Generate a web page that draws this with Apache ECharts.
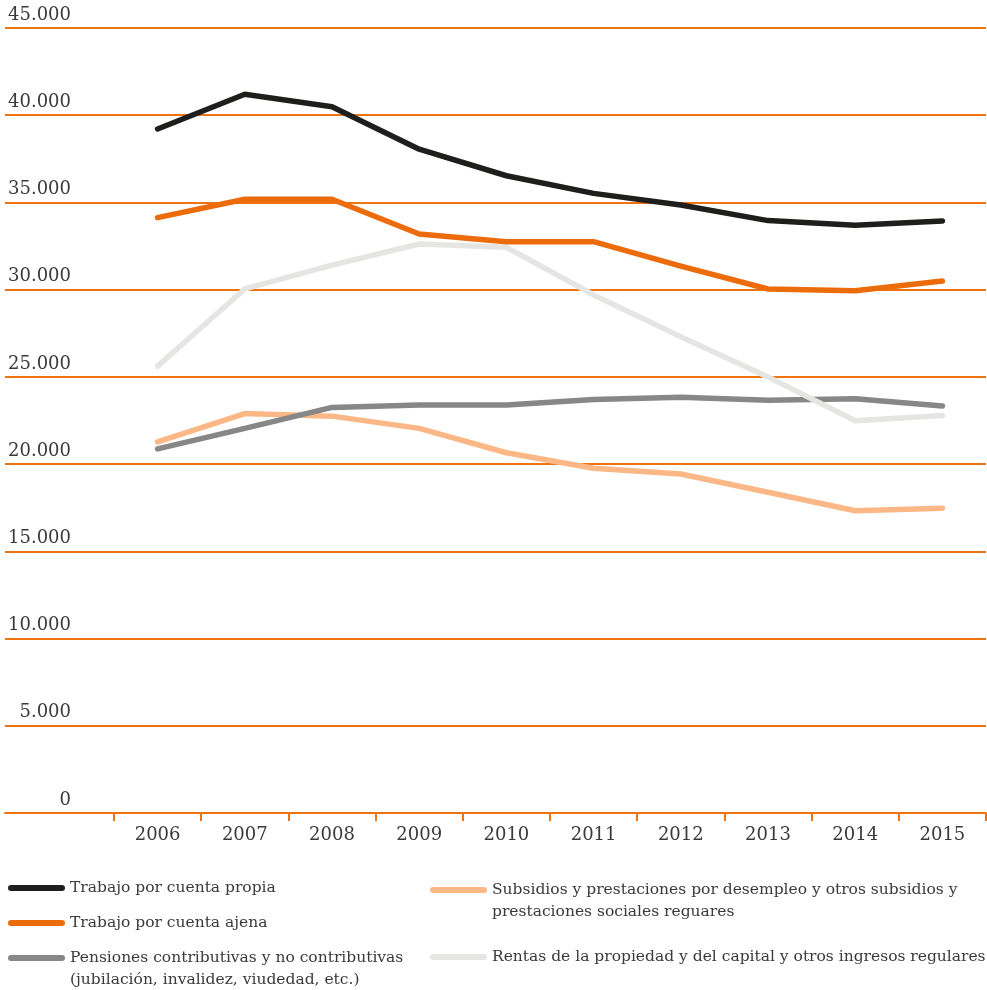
<!DOCTYPE html>
<html>
<head>
<meta charset="utf-8">
<script src="https://cdn.jsdelivr.net/npm/echarts@6/dist/echarts.min.js"></script>
<style>
  html, body { margin: 0; padding: 0; background: #ffffff; }
  #chart { width: 987px; height: 990px; }
</style>
</head>
<body>
<div id="chart"></div>
<script>
// Categories
const years = ['2006', '2007', '2008', '2009', '2010', '2011', '2012', '2013', '2014', '2015'];

// Series names
const nameCuentaPropia = 'Trabajo por cuenta propia';
const nameCuentaAjena = 'Trabajo por cuenta ajena';
const namePensiones = 'Pensiones contributivas y no contributivas\n(jubilación, invalidez, viudedad, etc.)';
const nameSubsidios = 'Subsidios y prestaciones por desempleo y otros subsidios y\nprestaciones sociales reguares';
const nameRentas = 'Rentas de la propiedad y del capital y otros ingresos regulares';

// Series values
const cuentaPropia = [39210, 41200, 40490, 38050, 36530, 35520, 34850, 33960, 33690, 33940];
const cuentaAjena  = [34130, 35180, 35180, 33190, 32750, 32750, 31350, 30040, 29940, 30500];
const pensiones    = [20870, 22050, 23250, 23390, 23390, 23710, 23830, 23660, 23750, 23330];
const subsidios    = [21270, 22900, 22750, 22050, 20650, 19760, 19430, 18390, 17330, 17470];
const rentas       = [25620, 30040, 31410, 32620, 32430, 29700, 27300, 25000, 22490, 22780];

// Value axis ticks
const yMin = 0, yMax = 45000, yStep = 5000;

const ORANGE = '#ef7410';
const TEXT = '#3a3a3a';
const FONT = '"DejaVu Serif", "Liberation Serif", serif';

function thousands(v) {
  return String(v).replace(/\B(?=(\d{3})+(?!\d))/g, '.');
}

const lineIcon = 'path://M3,0 L54,0 A3,3 0 0 1 54,6 L3,6 A3,3 0 0 1 3,0 Z';

function lineSeries(name, data, color) {
  return {
    name: name,
    type: 'line',
    xAxisIndex: 1,
    yAxisIndex: 1,
    data: data,
    symbol: 'none',
    silent: true,
    color: color,
    lineStyle: { color: color, width: 5.5, cap: 'round', join: 'round' }
  };
}

// One legend block per entry; two-line entries get a leading blank line so
// the marker sits beside their first line.
function legendFor(name, left, top, twoLine) {
  const lg = {
    left: left,
    top: top,
    orient: 'vertical',
    selectedMode: false,
    icon: lineIcon,
    itemWidth: 57,
    itemHeight: 6,
    padding: 0,
    textStyle: { fontFamily: FONT, fontSize: 15.5, color: TEXT, lineHeight: 22 },
    data: [name]
  };
  if (twoLine) lg.formatter = function (n) { return '\n' + n; };
  return lg;
}

const chart = echarts.init(document.getElementById('chart'), null, { renderer: 'canvas' });

chart.setOption({
  animation: false,
  backgroundColor: '#ffffff',
  grid: [
    { left: 5, right: 1, top: 28, bottom: 177 },
    { left: 114, right: 1, top: 28, bottom: 177 }
  ],
  xAxis: [
    {
      gridIndex: 0, type: 'category', data: [''],
      axisLine: { show: true, lineStyle: { color: ORANGE, width: 2 } },
      axisTick: { show: false }, axisLabel: { show: false }, splitLine: { show: false }
    },
    {
      gridIndex: 1, type: 'category', data: years, boundaryGap: true,
      axisLine: { show: false },
      axisTick: { show: true, length: 8, lineStyle: { color: ORANGE, width: 2 } },
      axisLabel: { margin: 13, fontFamily: FONT, fontSize: 18, color: TEXT },
      splitLine: { show: false }
    }
  ],
  yAxis: [
    {
      gridIndex: 0, type: 'value', min: yMin, max: yMax, interval: yStep,
      axisLine: { show: false }, axisTick: { show: false },
      splitLine: { show: true, lineStyle: { color: ORANGE, width: 2 } },
      axisLabel: {
        inside: true, margin: 66, align: 'right', verticalAlign: 'bottom',
        padding: [0, 0, 4, 0],
        fontFamily: FONT, fontSize: 18, color: TEXT,
        formatter: thousands
      }
    },
    {
      gridIndex: 1, type: 'value', min: yMin, max: yMax, interval: yStep, show: false,
      splitLine: { show: false }
    }
  ],
  legend: [
    legendFor(nameCuentaPropia, 8, 877),
    legendFor(nameCuentaAjena, 8, 912),
    legendFor(namePensiones, 8, 925, true),
    legendFor(nameSubsidios, 430, 857, true),
    legendFor(nameRentas, 430, 946)
  ],
  series: [
    lineSeries(nameSubsidios, subsidios, '#fbb886'),
    lineSeries(namePensiones, pensiones, '#878787'),
    lineSeries(nameRentas, rentas, '#e5e5e3'),
    lineSeries(nameCuentaAjena, cuentaAjena, '#ec6c0b'),
    lineSeries(nameCuentaPropia, cuentaPropia, '#1e1e1c')
  ]
});
</script>
</body>
</html>
